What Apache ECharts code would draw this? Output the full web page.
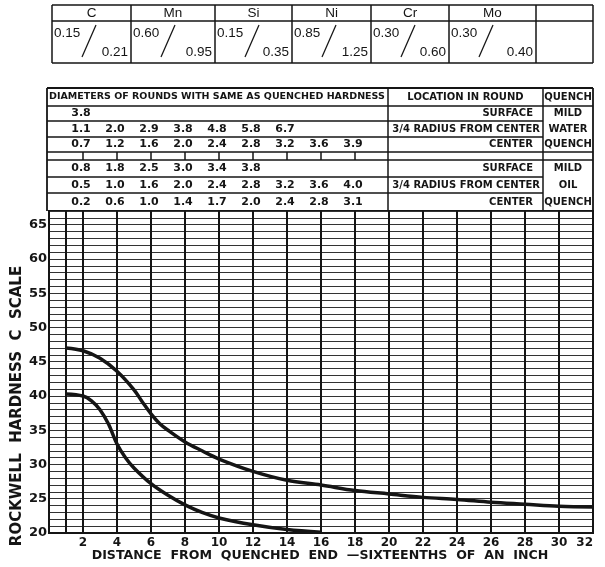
<!DOCTYPE html>
<html><head><meta charset="utf-8">
<script src="https://cdn.jsdelivr.net/npm/echarts@6/dist/echarts.min.js"></script>
<style>html,body{margin:0;padding:0;background:#fff}#c{width:605px;height:567px}</style>
</head><body><div id="c"></div>
<script>
// ---- data ----
const elementNames = ['C','Mn','Si','Ni','Cr','Mo',''];
const elementMin = ['0.15','0.60','0.15','0.85','0.30','0.30',''];
const elementMax = ['0.21','0.95','0.35','1.25','0.60','0.40',''];

const diameterPositions = [2,4,6,8,10,12,14,16,18];
const waterSurface = ['3.8'];
const waterThreeQuarter = ['1.1','2.0','2.9','3.8','4.8','5.8','6.7'];
const waterCenter = ['0.7','1.2','1.6','2.0','2.4','2.8','3.2','3.6','3.9'];
const oilSurface = ['0.8','1.8','2.5','3.0','3.4','3.8'];
const oilThreeQuarter = ['0.5','1.0','1.6','2.0','2.4','2.8','3.2','3.6','4.0'];
const oilCenter = ['0.2','0.6','1.0','1.4','1.7','2.0','2.4','2.8','3.1'];
const locations = ['SURFACE','3/4 RADIUS FROM CENTER','CENTER'];
const quenchWater = ['MILD','WATER','QUENCH'];
const quenchOil = ['MILD','OIL','QUENCH'];

const upperCurve = [[1,47.0],[2,46.6],[3,45.5],[4,43.6],[5,40.9],[5.5,39.1],[6,37.4],[6.5,36.0],[7,35.0],[8,33.3],[9,32.0],[10,30.8],[12,29.0],[14,27.7],[16,27.0],[18,26.2],[20,25.7],[22,25.2],[24,24.9],[26,24.5],[28,24.2],[30,23.9],[32,23.8]];
const lowerCurve = [[1,40.3],[2,40.0],[2.5,39.3],[3,38.0],[3.5,35.9],[4,33.0],[4.5,31.0],[5,29.5],[6,27.2],[7,25.5],[8,24.1],[9,23.0],[10,22.2],[12,21.2],[14,20.5],[16,20.1]];
const extraVerticalLines = [1];

// ---- chart ----
const INK = '#151515';
const DRAFT = '"DejaVu Sans", "Liberation Sans", sans-serif';
const chart = echarts.init(document.getElementById('c'));
chart.setOption({
  animation: false,
  backgroundColor: '#fff',
  grid: {left: 49, right: 12, top: 211, bottom: 34, show: true, borderColor: INK, borderWidth: 2},
  xAxis: {
    type: 'value', min: 0, max: 32, interval: 2,
    axisLine: {show: true, lineStyle: {color: INK, width: 2}},
    axisTick: {show: false},
    axisLabel: {formatter: v => v === 0 ? '' : String(v), color: INK, fontFamily: DRAFT, fontWeight: 'bold', fontSize: 12, margin: 4, alignMaxLabel: 'right'},
    splitLine: {show: true, lineStyle: {color: INK, width: 2}}
  },
  yAxis: {
    type: 'value', min: 20, max: 67, interval: 1,
    axisLine: {show: true, lineStyle: {color: INK, width: 2}},
    axisTick: {show: false},
    axisLabel: {formatter: v => v % 5 === 0 ? String(v) : '', color: INK, fontFamily: DRAFT, fontWeight: 'bold', fontSize: 13, margin: 2},
    splitLine: {show: true, lineStyle: {color: '#333', width: 1.2}}
  },
  series: [
    {type: 'line', data: upperCurve, smooth: 0.35, symbol: 'none', lineStyle: {color: INK, width: 3.5},
     markLine: {silent: true, symbol: 'none', label: {show: false}, lineStyle: {color: INK, width: 2, type: 'solid'},
       data: extraVerticalLines.map(v => ({xAxis: v}))}},
    {type: 'line', data: lowerCurve, smooth: 0.35, symbol: 'none', lineStyle: {color: INK, width: 3.5}}
  ]
});

// ---- tables & titles ----
const g = [];
function line(x1, y1, x2, y2, w) {
  g.push({type: 'line', shape: {x1, y1, x2, y2}, style: {stroke: INK, lineWidth: w || 1.5}, silent: true});
}
function text(t, x, y, font, align) {
  g.push({type: 'text', x: x, y: y, silent: true,
    style: {text: t, fill: INK, font: font, textAlign: align || 'center', align: align || 'center', textVerticalAlign: 'middle', verticalAlign: 'middle'}});
}

// composition table
const cols = [52,131,215,292,371,449,536,593];
const tT = 5, tM = 21, tB = 63;
line(cols[0], tT, cols[7], tT, 1.5);
line(cols[0], tM, cols[7], tM, 1.5);
line(cols[0], tB, cols[7], tB, 1.5);
cols.forEach(x => line(x, tT, x, tB, 1.5));
const SANS = '13.5px "Liberation Sans", Arial, sans-serif';
elementNames.forEach((n, i) => {
  const l = cols[i], r = cols[i + 1];
  text(n, (l + r) / 2, 13.5, SANS);
  if (elementMin[i]) {
    text(elementMin[i], l + 2, 33, SANS, 'left');
    line(l + 30, 57, l + 44, 25, 1.2);
    text(elementMax[i], r - 3, 52, SANS, 'right');
  }
});

// diameters table
const L = 47, R = 593, C1 = 388, C2 = 543, T = 88, B = 211;
line(L, T, R, T, 1.8);
line(L, T, L, B, 1.8);
line(R, T, R, B, 1.8);
line(C1, T, C1, B, 1.5);
line(C2, T, C2, B, 1.5);
line(L, 106, R, 106, 1.5);
line(L, 121, C2, 121, 1.3);
line(L, 137, C2, 137, 1.3);
line(L, 152, R, 152, 1.5);
line(L, 160, R, 160, 1.5);
line(L, 177, C2, 177, 1.3);
line(L, 193, C2, 193, 1.3);

const HEAD = 'bold 10px ' + DRAFT;
text('DIAMETERS OF ROUNDS WITH SAME AS QUENCHED HARDNESS', L + 2, 97, 'bold 9.5px ' + DRAFT, 'left');
text('LOCATION IN ROUND', (C1 + C2) / 2, 97, HEAD);
text('QUENCH', (C2 + R) / 2, 97, HEAD);

const rowY = [113.5, 129, 144.5, 168.5, 185, 202];
const rows = [waterSurface, waterThreeQuarter, waterCenter, oilSurface, oilThreeQuarter, oilCenter];
const NUM = 'bold 11px ' + DRAFT;
rows.forEach((vals, r) => {
  vals.forEach((v, i) => {
    const px = chart.convertToPixel({xAxisIndex: 0}, diameterPositions[i]);
    text(v, px - 2, rowY[r], NUM);
  });
  const loc = locations[r % 3];
  text(loc, r % 3 === 1 ? 540 : 533, rowY[r], HEAD, 'right');
  const q = r < 3 ? quenchWater : quenchOil;
  text(q[r % 3], (C2 + R) / 2, rowY[r], HEAD);
});
diameterPositions.forEach(d => {
  const px = chart.convertToPixel({xAxisIndex: 0}, d);
  line(px, 152, px, 160, 1.5);
});

// axis titles
g.push({type: 'text', x: 17, y: 406, rotation: Math.PI / 2, silent: true,
  style: {text: 'ROCKWELL  HARDNESS  C  SCALE', fill: INK, font: 'bold 15px ' + DRAFT,
    textAlign: 'center', align: 'center', textVerticalAlign: 'middle', verticalAlign: 'middle'}});
text('DISTANCE  FROM  QUENCHED  END  —SIXTEENTHS  OF  AN  INCH', 320, 556, 'bold 12.6px ' + DRAFT);

chart.setOption({graphic: {elements: g}});
</script>
</body></html>
